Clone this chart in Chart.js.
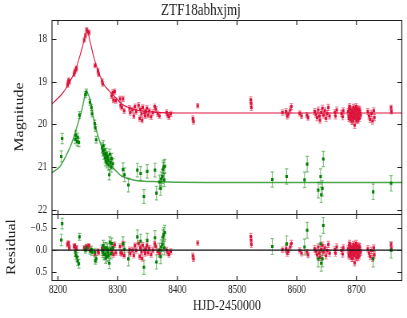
<!doctype html>
<html lang="en">
<head>
  <meta charset="utf-8" />
  <title>ZTF18abhxjmj</title>
  <script src="https://cdn.jsdelivr.net/npm/chart.js@4.4.1/dist/chart.umd.min.js"></script>
  <style>
    html, body { margin: 0; padding: 0; background: #fff; }
  </style>
</head>
<body>
  <!-- the reference is a horizontally squeezed figure: draw 509px wide, show at 407px -->
  <canvas id="lienzo" width="509" height="318" style="display:block;width:407px;height:318px"></canvas>
  <script>
    // r band (crimson)
    const redHjd = [
      8216, 8217, 8218, 8219, 8227, 8228, 8230, 8231,
      8244, 8246, 8248, 8250, 8252,
      8262, 8267, 8268, 8274, 8275,
      8290, 8292, 8293, 8295, 8297, 8304, 8305, 8307, 8309, 8311,
      8320, 8321, 8325, 8327, 8329, 8331, 8335, 8337, 8338, 8340, 8341, 8342, 8345, 8346,
      8347, 8349, 8351, 8353, 8356, 8359, 8362, 8364, 8367, 8370,
      8382, 8384, 8386, 8389, 8426, 8427, 8434,
      8523, 8523.5, 8524, 8576, 8582, 8584, 8586, 8589, 8591, 8605, 8608, 8617, 8619,
      8630, 8632, 8634, 8636, 8638, 8639, 8641, 8643, 8645, 8647, 8649, 8651, 8653, 8655,
      8664, 8665, 8667, 8675, 8677, 8678,
      8686, 8687, 8688, 8689, 8690, 8691, 8692, 8693, 8694, 8695, 8696, 8697, 8698, 8699, 8700, 8701, 8702, 8703, 8704, 8705, 8706,
      8688.5, 8690.5, 8692.5, 8694.5, 8696.5, 8698.5, 8700.5, 8702.5, 8704.5,
      8687.5, 8689.5, 8691.5, 8693.5, 8695.5, 8697.5, 8699.5, 8701.5, 8703.5, 8705.5, 8707,
      8719, 8721, 8723, 8725, 8727, 8729, 8730, 8758, 8758.5
    ];
    const redMag = [
      19.08, 19.02, 18.96, 19.00, 18.82, 18.76, 18.72, 18.68,
      18.02, 17.92, 17.78, 17.82, 17.85,
      18.62, 18.74, 18.82, 18.98, 19.05,
      19.33, 19.25, 19.43, 19.23, 19.44, 19.40, 19.55, 19.60, 19.40, 19.68,
      19.62, 19.72, 19.66, 19.80, 19.58, 19.70, 19.55, 19.86, 19.65, 19.75, 19.90, 19.60, 19.72, 19.80,
      19.70, 19.62, 19.78, 19.68, 19.82, 19.72, 19.58, 19.64, 19.75, 19.80,
      19.72, 19.78, 19.82, 19.75, 19.86, 19.93, 19.56,
      19.42, 19.50, 19.60, 19.72, 19.70, 19.80, 19.76, 19.66, 19.58, 19.74, 19.80, 19.78, 19.84,
      19.70, 19.76, 19.84, 19.66, 19.80, 19.90, 19.72, 19.62, 19.78, 19.68, 19.86, 19.74, 19.60, 19.80,
      19.72, 19.80, 19.66, 19.74, 19.82, 19.68,
      19.70, 19.82, 19.62, 19.76, 19.88, 19.66, 19.78, 19.72, 19.84, 19.60, 19.74, 20.02, 19.80, 19.68, 19.90, 19.76, 19.64, 19.82, 19.70, 19.86, 19.74,
      19.58, 19.80, 19.92, 19.68, 19.86, 19.62, 19.76, 19.90, 19.64,
      19.86, 19.64, 19.74, 19.92, 19.68, 19.80, 19.58, 19.88, 19.72, 19.66, 19.78,
      19.70, 19.80, 19.88, 19.74, 19.92, 19.68, 19.84, 19.60, 19.70
    ];
    const redErr = [
      0.05, 0.05, 0.05, 0.05, 0.05, 0.05, 0.05, 0.05,
      0.05, 0.05, 0.05, 0.05, 0.05,
      0.05, 0.05, 0.05, 0.05, 0.05,
      0.06, 0.06, 0.06, 0.06, 0.06, 0.06, 0.06, 0.06, 0.06, 0.06,
      0.06, 0.06, 0.06, 0.06, 0.06, 0.06, 0.06, 0.06, 0.06, 0.06, 0.06, 0.06, 0.06, 0.06,
      0.06, 0.06, 0.06, 0.06, 0.06, 0.06, 0.06, 0.06, 0.06, 0.06,
      0.06, 0.06, 0.06, 0.06, 0.06, 0.06, 0.05,
      0.07, 0.07, 0.07, 0.06, 0.07, 0.07, 0.07, 0.07, 0.07, 0.06, 0.06, 0.06, 0.06,
      0.07, 0.07, 0.07, 0.07, 0.07, 0.07, 0.07, 0.07, 0.07, 0.07, 0.07, 0.07, 0.07, 0.07,
      0.07, 0.07, 0.07, 0.07, 0.07, 0.07,
      0.07, 0.07, 0.07, 0.07, 0.07, 0.07, 0.07, 0.07, 0.07, 0.07, 0.07, 0.07, 0.07, 0.07, 0.07, 0.07, 0.07, 0.07, 0.07, 0.07, 0.07,
      0.07, 0.07, 0.07, 0.07, 0.07, 0.07, 0.07, 0.07, 0.07,
      0.07, 0.07, 0.07, 0.07, 0.07, 0.07, 0.07, 0.07, 0.07, 0.07, 0.07,
      0.07, 0.07, 0.07, 0.07, 0.07, 0.07, 0.07, 0.05, 0.05
    ];
    const redRes = [
      -0.12, -0.16, -0.14, -0.05, -0.08, -0.10, -0.04, -0.05,
      -0.05, -0.03, -0.08, -0.06, -0.10,
      0.08, 0.02, 0.06, -0.04, 0.02,
      0.05, -0.06, 0.10, -0.12, 0.06, -0.08, 0.06, 0.08, -0.14, 0.12,
      -0.01, 0.08, 0.00, 0.12, -0.10, 0.01, -0.15, 0.15, -0.05, 0.04, 0.19, -0.11, 0.00, 0.08,
      -0.02, -0.10, 0.06, -0.04, 0.10, 0.00, -0.14, -0.08, 0.03, 0.08,
      0.00, 0.06, 0.10, 0.03, 0.13, 0.20, -0.16,
      -0.31, -0.23, -0.13, -0.01, -0.03, 0.07, 0.03, -0.07, -0.15, 0.01, 0.07, 0.05, 0.11,
      -0.03, 0.03, 0.11, -0.07, 0.07, 0.17, -0.01, -0.11, 0.05, -0.05, 0.13, 0.01, -0.13, 0.07,
      -0.01, 0.07, -0.07, 0.01, 0.09, -0.05,
      -0.03, 0.09, -0.11, 0.03, 0.15, -0.07, 0.05, -0.01, 0.11, -0.13, 0.01, 0.29, 0.07, -0.05, 0.17, 0.03, -0.09, 0.09, -0.03, 0.13, 0.01,
      -0.15, 0.07, 0.19, -0.05, 0.13, -0.11, 0.03, 0.17, -0.09,
      0.13, -0.09, 0.01, 0.19, -0.05, 0.07, -0.15, 0.15, -0.01, -0.07, 0.05,
      -0.03, 0.07, 0.15, 0.01, 0.19, -0.05, 0.11, -0.13, -0.03
    ];

    // g band (green)
    const greenHjd = [
      8205.5, 8207, 8229, 8230, 8232, 8233, 8235, 8236,
      8246, 8247.5, 8253.5, 8256, 8257, 8261.5, 8262.5, 8264,
      8274, 8275, 8276, 8277, 8278, 8279, 8280, 8281, 8282, 8283, 8284, 8285, 8286, 8287, 8288, 8289, 8290, 8292,
      8309, 8311.5, 8318, 8333, 8338.5, 8344, 8349.5, 8362.5, 8365, 8370, 8372, 8373, 8375, 8376, 8377, 8378, 8379,
      8559, 8583, 8613, 8617.5, 8636, 8640, 8641, 8643, 8644.5, 8728, 8758
    ];
    const greenMag = [
      20.75, 20.33, 20.35, 20.25, 20.40, 20.30, 20.42, 19.78,
      19.30, 19.24, 19.48, 19.60, 19.75, 19.98, 20.08, 20.36,
      20.55, 20.62, 20.50, 20.70, 20.60, 20.78, 20.85, 20.68, 20.90, 20.75, 20.82, 20.95, 21.18, 20.70, 20.88, 21.00, 20.80, 20.92,
      21.06, 21.18, 21.42, 21.07, 21.15, 21.69, 21.10, 21.07, 21.61, 21.35, 21.50, 21.28, 21.22, 21.05, 21.00, 21.30, 20.98,
      21.29, 21.22, 21.30, 20.93, 21.54, 21.22, 21.65, 21.50, 20.81, 21.58, 21.38
    ];
    const greenErr = [
      0.13, 0.12, 0.10, 0.10, 0.10, 0.10, 0.10, 0.08,
      0.07, 0.07, 0.07, 0.07, 0.07, 0.08, 0.08, 0.08,
      0.12, 0.12, 0.12, 0.12, 0.12, 0.12, 0.12, 0.12, 0.12, 0.12, 0.12, 0.12, 0.12, 0.12, 0.12, 0.12, 0.12, 0.12,
      0.16, 0.16, 0.16, 0.16, 0.16, 0.16, 0.16, 0.16, 0.16, 0.16, 0.16, 0.16, 0.16, 0.16, 0.16, 0.16, 0.16,
      0.18, 0.18, 0.18, 0.18, 0.18, 0.18, 0.18, 0.18, 0.18, 0.18, 0.18
    ];
    const greenRes = [
      -0.23, -0.60, 0.05, 0.12, 0.16, 0.25, 0.31, -0.30,
      0.00, -0.05, 0.02, -0.02, 0.05, 0.05, 0.24, 0.20,
      0.00, 0.05, -0.10, 0.10, -0.05, 0.10, 0.18, -0.05, 0.15, -0.02, 0.05, 0.12, 0.30, -0.18, -0.02, 0.08, -0.15, -0.05,
      -0.14, -0.02, 0.20, -0.30, -0.20, 0.39, -0.22, -0.28, 0.27, 0.00, 0.15, -0.07, -0.13, -0.30, -0.35, -0.05, -0.40,
      -0.08, -0.14, -0.07, -0.45, 0.20, -0.14, 0.30, 0.20, -0.56, 0.20, 0.00
    ];

    // model curves
    const redModelHjd = [8190, 8207, 8218, 8229, 8237, 8243, 8248.6, 8254, 8260, 8268, 8276.5, 8285, 8296, 8307, 8324, 8350, 8400, 8500, 8776];
    const redModelMag = [19.52, 19.28, 19.05, 18.73, 18.38, 18.07, 17.80, 18.07, 18.42, 18.77, 19.05, 19.20, 19.36, 19.52, 19.63, 19.70, 19.73, 19.73, 19.73];
    const greenModelHjd = [8190, 8203, 8214, 8223, 8231, 8240, 8247.5, 8254, 8259, 8265, 8273, 8287, 8304, 8326, 8360, 8450, 8600, 8776];
    const greenModelMag = [21.13, 20.99, 20.72, 20.44, 20.09, 19.66, 19.24, 19.43, 19.82, 20.17, 20.52, 20.91, 21.18, 21.30, 21.34, 21.36, 21.36, 21.36];

    const xTicks = [8200, 8300, 8400, 8500, 8600, 8700];
    const magTicks = [18, 19, 20, 21, 22];
    const resTicks = [-0.5, 0, 0.5];

    const ROJO = '#dc143c';
    const VERDE = '#008000';
    const serif = "'Liberation Serif', 'DejaVu Serif', serif";

    const puntos = (xs, ys) => xs.map((x, i) => ({ x: x, y: ys[i] }));

    // error bars drawn under the points, through the chart scales
    const barras = {
      id: 'barras',
      beforeDatasetsDraw(chart) {
        const ctx = chart.ctx;
        const a = chart.chartArea;
        ctx.save();
        ctx.beginPath();
        ctx.rect(a.left, a.top, a.right - a.left, a.bottom - a.top);
        ctx.clip();
        ctx.lineWidth = 1.2;
        chart.data.datasets.forEach(ds => {
          if (!ds.errores) return;
          const sx = chart.scales.x;
          const sy = chart.scales[ds.yAxisID];
          ctx.strokeStyle = ds.colorBarra;
          ds.data.forEach((p, j) => {
            const e = ds.errores[j];
            const px = sx.getPixelForValue(p.x);
            const y1 = sy.getPixelForValue(p.y - e);
            const y2 = sy.getPixelForValue(p.y + e);
            ctx.beginPath();
            ctx.moveTo(px, y1); ctx.lineTo(px, y2);
            ctx.moveTo(px - 2, y1); ctx.lineTo(px + 2, y1);
            ctx.moveTo(px - 2, y2); ctx.lineTo(px + 2, y2);
            ctx.stroke();
          });
        });
        ctx.restore();
      }
    };

    // panel frames and inward ticks
    const marco = {
      id: 'marco',
      afterDatasetsDraw(chart) {
        const ctx = chart.ctx;
        const sx = chart.scales.x, sm = chart.scales.y, sr = chart.scales.yres;
        const L = chart.chartArea.left, R = chart.chartArea.right;
        const TV = 4.5, TH = 5.6;
        ctx.save();
        ctx.strokeStyle = '#222';
        ctx.lineWidth = 1.2;
        ctx.beginPath();
        [[sm.top, sm.bottom], [sr.top, sr.bottom]].forEach(([t, b]) => {
          const yt = Math.round(t) + 0.5, yb = Math.round(b) + 0.5;
          ctx.rect(L, yt, R - L, yb - yt);
          xTicks.forEach(v => {
            const px = sx.getPixelForValue(v);
            ctx.moveTo(px, yt); ctx.lineTo(px, yt + TV);
            ctx.moveTo(px, yb); ctx.lineTo(px, yb - TV);
          });
        });
        [[sm, magTicks], [sr, resTicks]].forEach(([s, ticks]) => {
          ticks.forEach(v => {
            const py = Math.round(s.getPixelForValue(v)) + 0.5;
            ctx.moveTo(L, py); ctx.lineTo(L + TH, py);
            ctx.moveTo(R, py); ctx.lineTo(R - TH, py);
          });
        });
        ctx.stroke();
        ctx.restore();
      }
    };

    const ejeY = (ticks, titulo, pad) => ({
      type: 'linear',
      axis: 'y',
      position: 'left',
      stack: 'curva',
      reverse: true,
      grid: { display: false, drawTicks: false },
      border: { display: false },
      afterBuildTicks: s => { s.ticks = ticks.map(v => ({ value: v })); },
      afterFit: s => { s.width = 65; },
      ticks: {
        padding: 6,
        color: '#222',
        font: { family: serif, size: 11.5 },
        callback: v => (Math.abs(v) >= 1 ? String(v) : v.toFixed(1)).replace('-', '\u2212')
      },
      title: { display: true, text: titulo, color: '#222', font: { family: serif, size: 16 }, padding: { top: pad, bottom: 0 } }
    });

    Chart.defaults.font.family = serif;

    new Chart(document.getElementById('lienzo'), {
      type: 'scatter',
      data: {
        datasets: [
          { type: 'line', data: puntos(redModelHjd, redModelMag), yAxisID: 'y', borderColor: ROJO, borderWidth: 1.1, pointRadius: 0, cubicInterpolationMode: 'monotone', fill: false },
          { type: 'line', data: puntos(greenModelHjd, greenModelMag), yAxisID: 'y', borderColor: 'rgba(0,128,0,0.7)', borderWidth: 1.5, pointRadius: 0, cubicInterpolationMode: 'monotone', fill: false },
          { data: puntos(greenHjd, greenMag), errores: greenErr, colorBarra: 'rgba(0,128,0,0.5)', yAxisID: 'y', pointStyle: 'rect', pointRadius: 2.2, backgroundColor: VERDE, borderWidth: 0 },
          { data: puntos(redHjd, redMag), errores: redErr, colorBarra: 'rgba(220,20,60,0.5)', yAxisID: 'y', pointStyle: 'rect', pointRadius: 2.2, backgroundColor: ROJO, borderWidth: 0 },
          { type: 'line', data: [{ x: 8190, y: 0 }, { x: 8776, y: 0 }], yAxisID: 'yres', borderColor: '#111', borderWidth: 1.1, pointRadius: 0 },
          { data: puntos(greenHjd, greenRes), errores: greenErr, colorBarra: 'rgba(0,128,0,0.5)', yAxisID: 'yres', pointStyle: 'rect', pointRadius: 2.2, backgroundColor: VERDE, borderWidth: 0 },
          { data: puntos(redHjd, redRes), errores: redErr, colorBarra: 'rgba(220,20,60,0.5)', yAxisID: 'yres', pointStyle: 'rect', pointRadius: 2.2, backgroundColor: ROJO, borderWidth: 0 }
        ]
      },
      options: {
        responsive: false,
        devicePixelRatio: 1,
        animation: false,
        layout: { padding: { right: 6.5 } },
        plugins: {
          legend: { display: false },
          tooltip: { enabled: false },
          title: { display: true, text: 'ZTF18abhxjmj', color: '#222', font: { family: serif, size: 16.5, weight: 'normal', lineHeight: 1.1 }, padding: { top: 1.5, bottom: 0.35 } }
        },
        scales: {
          x: {
            type: 'linear',
            position: 'bottom',
            min: 8190,
            max: 8776,
            grid: { display: false, drawTicks: false },
            border: { display: false },
            afterBuildTicks: s => { s.ticks = xTicks.map(v => ({ value: v })); },
            afterFit: s => { s.height = 38; },
            ticks: { padding: 3, color: '#222', font: { family: serif, size: 11.5 }, callback: v => String(v) },
            title: { display: true, text: 'HJD-2450000', color: '#222', font: { family: serif, size: 15 }, padding: { top: 0, bottom: 3 } }
          },
          y: Object.assign(ejeY(magTicks, 'Magnitude', 15.4), { min: 17.55, max: 22.1, stackWeight: 194, weight: 2 }),
          yres: Object.assign(ejeY(resTicks, 'Residual', 5.4), { min: -0.82, max: 0.68, stackWeight: 66, weight: 1 })
        }
      },
      plugins: [barras, marco]
    });
  </script>
</body>
</html>
